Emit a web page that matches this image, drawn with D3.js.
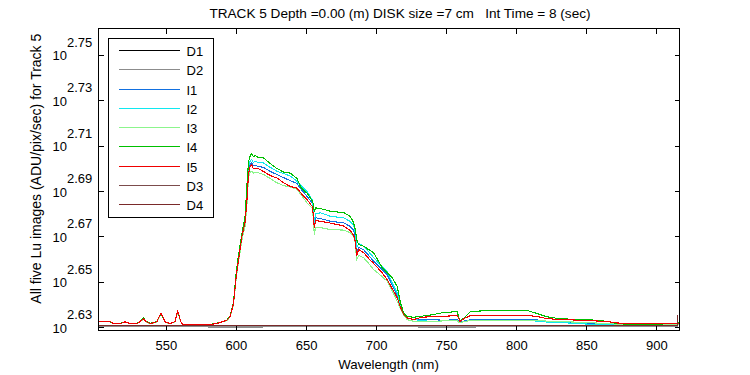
<!DOCTYPE html>
<html><head><meta charset="utf-8">
<script src="https://cdn.jsdelivr.net/npm/d3@7"></script>
<style>
body{margin:0;background:#fff}
svg{display:block}
text{font-family:"Liberation Sans",Arial,Helvetica,sans-serif;font-size:13px;fill:#000}
</style>
</head><body>
<svg id="chart" width="750" height="375"></svg>
<script>
// ---- DATA (log10 of Lu, ADU/pix/sec) ----
const wavelengths = [501.6,503.1,510.2,512.6,517.4,521.0,524.5,529.3,531.6,534.0,
535.9,538.8,543.6,545.2,546.6,548.1,549.5,553.0,556.6,558.3,
559.5,560.6,561.9,582.9,587.6,593.6,595.9,598.3,600.2,601.9,
604.3,606.6,607.9,609.0,610.2,611.3,612.4,613.8,616.1,619.7,
624.5,629.3,634.0,638.8,643.6,646.6,650.7,654.3,655.2,655.9,
656.9,660.2,667.4,676.9,681.6,684.0,685.2,686.1,687.6,691.1,
694.7,698.3,704.3,707.9,711.4,715.0,717.4,719.7,722.1,726.9,
731.6,738.8,748.3,757.9,759.0,759.9,762.6,767.4,784.0,807.9,
815.1,822.1,831.6,850.7,865.0,872.1,884.0,907.9,916.1];

const I1 = [2.6324,2.6326,2.6326,2.6316,2.6316,2.6324,2.6316,2.6316,2.6325,2.6338,
2.6325,2.6316,2.6324,2.6347,2.6360,2.6343,2.6324,2.6316,2.6325,2.6369,
2.6352,2.6325,2.6313,2.6313,2.6319,2.6331,2.6348,2.6407,2.6528,2.6605,
2.6704,2.6770,2.6880,2.6990,2.7019,2.7024,2.7012,2.7012,2.7009,2.7004,
2.6986,2.6973,2.6959,2.6946,2.6933,2.6907,2.6877,2.6848,2.6810,2.6752,
2.6782,2.6779,2.6767,2.6760,2.6744,2.6726,2.6695,2.6633,2.6651,2.6642,
2.6616,2.6591,2.6554,2.6532,2.6488,2.6444,2.6396,2.6363,2.6341,2.6334,
2.6334,2.6334,2.6331,2.6333,2.6327,2.6323,2.6327,2.6333,2.6334,2.6334,
2.6332,2.6327,2.6324,2.6319,2.6315,2.6313,2.6312,2.6312,2.6313];

const I2 = [2.6324,2.6325,2.6326,2.6316,2.6316,2.6323,2.6316,2.6316,2.6325,2.6339,
2.6325,2.6316,2.6324,2.6346,2.6359,2.6343,2.6324,2.6316,2.6325,2.6368,
2.6351,2.6325,2.6313,2.6313,2.6319,2.6331,2.6348,2.6409,2.6532,2.6611,
2.6708,2.6779,2.6898,2.7008,2.7034,2.7039,2.7026,2.7030,2.7026,2.7024,
2.7004,2.6987,2.6977,2.6966,2.6943,2.6924,2.6898,2.6863,2.6827,2.6761,
2.6801,2.6804,2.6789,2.6782,2.6766,2.6748,2.6713,2.6651,2.6669,2.6657,
2.6633,2.6606,2.6567,2.6545,2.6497,2.6452,2.6400,2.6360,2.6341,2.6334,
2.6330,2.6326,2.6328,2.6330,2.6325,2.6321,2.6325,2.6330,2.6330,2.6330,
2.6327,2.6323,2.6321,2.6314,2.6312,2.6312,2.6311,2.6312,2.6312];

const I3 = [2.6323,2.6325,2.6325,2.6315,2.6316,2.6323,2.6315,2.6316,2.6324,2.6336,
2.6324,2.6315,2.6323,2.6344,2.6356,2.6341,2.6323,2.6315,2.6324,2.6365,
2.6349,2.6324,2.6313,2.6313,2.6318,2.6330,2.6346,2.6400,2.6515,2.6589,
2.6686,2.6748,2.6845,2.6959,2.6986,2.6987,2.6979,2.6981,2.6980,2.6973,
2.6955,2.6936,2.6924,2.6918,2.6907,2.6882,2.6848,2.6826,2.6783,2.6708,
2.6738,2.6739,2.6730,2.6728,2.6716,2.6700,2.6669,2.6598,2.6616,2.6606,
2.6581,2.6554,2.6523,2.6503,2.6462,2.6415,2.6380,2.6354,2.6334,2.6326,
2.6326,2.6326,2.6328,2.6330,2.6323,2.6319,2.6325,2.6330,2.6331,2.6331,
2.6330,2.6327,2.6325,2.6321,2.6316,2.6314,2.6312,2.6312,2.6312];

const I4 = [2.6324,2.6326,2.6325,2.6316,2.6317,2.6323,2.6316,2.6317,2.6327,2.6343,
2.6326,2.6317,2.6325,2.6346,2.6358,2.6342,2.6324,2.6316,2.6325,2.6366,
2.6350,2.6325,2.6313,2.6314,2.6320,2.6332,2.6350,2.6413,2.6541,2.6620,
2.6713,2.6792,2.6929,2.7030,2.7056,2.7065,2.7052,2.7056,2.7048,2.7046,
2.7021,2.6999,2.6984,2.6979,2.6955,2.6913,2.6891,2.6858,2.6845,2.6810,
2.6826,2.6823,2.6811,2.6805,2.6788,2.6760,2.6730,2.6686,2.6664,2.6657,
2.6642,2.6628,2.6563,2.6541,2.6519,2.6481,2.6407,2.6363,2.6348,2.6344,
2.6348,2.6354,2.6365,2.6369,2.6343,2.6326,2.6341,2.6370,2.6374,2.6374,
2.6360,2.6346,2.6337,2.6334,2.6326,2.6316,2.6312,2.6315,2.6319];

const I5 = [2.6324,2.6326,2.6326,2.6316,2.6316,2.6324,2.6316,2.6316,2.6325,2.6338,
2.6325,2.6316,2.6324,2.6347,2.6360,2.6343,2.6324,2.6316,2.6325,2.6370,
2.6352,2.6325,2.6313,2.6313,2.6319,2.6331,2.6348,2.6404,2.6523,2.6598,
2.6700,2.6766,2.6863,2.6977,2.7009,2.7017,2.6999,2.6999,2.6999,2.6986,
2.6968,2.6957,2.6937,2.6920,2.6913,2.6889,2.6863,2.6833,2.6796,2.6739,
2.6770,2.6767,2.6759,2.6746,2.6726,2.6704,2.6678,2.6616,2.6642,2.6629,
2.6603,2.6581,2.6540,2.6510,2.6471,2.6431,2.6387,2.6356,2.6341,2.6334,
2.6343,2.6347,2.6348,2.6352,2.6338,2.6326,2.6338,2.6352,2.6352,2.6352,
2.6347,2.6338,2.6334,2.6330,2.6325,2.6319,2.6315,2.6315,2.6316];

const darkWavelengths = [501.6,550,600,650,700,750,800,850,900,914.9,915.3];
const D1 = [2.6305,2.6304,2.6305,2.6305,2.6304,2.6305,2.6305,2.6304,2.6305,2.6305,2.6305];
const D2 = [2.6302,2.6302,2.6301,2.6302,2.6302,2.6301,2.6302,2.6302,2.6302,2.6302,2.6302];
const D3 = [2.6306,2.6306,2.6306,2.6306,2.6306,2.6306,2.6306,2.6306,2.6306,2.6306,2.6306];
const D4 = [2.6306,2.6306,2.6306,2.6306,2.6306,2.6306,2.6306,2.6306,2.6306,2.6306,2.6356];

const seriesNames  = ["D1","D2","I1","I2","I3","I4","I5","D3","D4"];
const seriesColors = ["#000000","#8c8c8c","#1270e0","#10e8f0","#8cf58c","#00c000","#f00000","#7c4c4c","#7a2a2a"];
const xTicks = [550,600,650,700,750,800,850,900];
const yTickExponents = [2.63,2.65,2.67,2.69,2.71,2.73,2.75];
const titleText = "TRACK 5 Depth =0.00 (m) DISK size =7 cm   Int Time = 8 (sec)";
const xLabel = "Wavelength (nm)";
const yLabel = "All five Lu images (ADU/pix/sec) for Track 5";

// ---- CHART ----
const L = 98, R = 679, T = 28, B = 330;
const svg = d3.select("#chart");
const x = d3.scaleLinear().domain([501.6, 916.1]).range([L, R]);
const y = d3.scaleLinear().domain([2.6288, 2.7618]).range([B, T]);

const series = [
  {name:"D1", wl:darkWavelengths, v:D1},
  {name:"D2", wl:darkWavelengths, v:D2},
  {name:"I1", wl:wavelengths, v:I1},
  {name:"I2", wl:wavelengths, v:I2},
  {name:"I3", wl:wavelengths, v:I3},
  {name:"I4", wl:wavelengths, v:I4},
  {name:"I5", wl:wavelengths, v:I5},
  {name:"D3", wl:darkWavelengths, v:D3},
  {name:"D4", wl:darkWavelengths, v:D4}
];

svg.append("defs").append("clipPath").attr("id","clip")
  .append("rect").attr("x",L).attr("y",T).attr("width",R-L).attr("height",B-T);

const lineGen = d3.line().x(d=>x(d[0])).y(d=>y(d[1]));
const gLines = svg.append("g").attr("clip-path","url(#clip)");
series.forEach(s=>{
  const pts = s.wl.map((w,k)=>[w, s.v[k]]);
  gLines.append("path").datum(pts)
    .attr("d", lineGen)
    .attr("fill","none")
    .attr("stroke", seriesColors[seriesNames.indexOf(s.name)])
    .attr("stroke-width",1.1)
    .attr("shape-rendering","crispEdges");
});

// axes
const gx = svg.append("g").attr("transform",`translate(0,${B+0.5})`)
  .call(d3.axisBottom(x).tickValues(xTicks).tickSizeInner(-5).tickSizeOuter(0).tickPadding(10).tickFormat(d3.format("d")));
const gxt = svg.append("g").attr("transform",`translate(0,${T+0.5})`)
  .call(d3.axisTop(x).tickValues(xTicks).tickSizeInner(-5).tickSizeOuter(0).tickFormat(""));
const gy = svg.append("g").attr("transform",`translate(${L+0.5},0)`)
  .call(d3.axisLeft(y).tickValues(yTickExponents).tickSizeInner(-5).tickSizeOuter(0).tickFormat(""));
const gyr = svg.append("g").attr("transform",`translate(${R+0.5},0)`)
  .call(d3.axisRight(y).tickValues(yTickExponents).tickSizeInner(-5).tickSizeOuter(0).tickFormat(""));
[gx,gxt,gy,gyr].forEach(g=>{
  g.selectAll(".domain").remove();
  g.selectAll("line").attr("stroke","#000").attr("shape-rendering","crispEdges");
  g.selectAll("text").attr("font-family",null).attr("font-size",null).attr("fill","#000");
});
gx.selectAll("text").attr("font-size","13px");

// y tick labels: 10^exp
const ylab = svg.append("g");
yTickExponents.forEach(e=>{
  const yy = y(e);
  ylab.append("text").attr("x",67).attr("y",yy+5.5).attr("text-anchor","end").text("10");
  ylab.append("text").attr("x",67).attr("y",yy-8).attr("text-anchor","start").text(d3.format(".2f")(e));
});

// box
svg.append("rect").attr("x",L+0.5).attr("y",T+0.5).attr("width",R-L).attr("height",B-T)
  .attr("fill","none").attr("stroke","#000").attr("shape-rendering","crispEdges");

// title & labels
svg.append("text").attr("x",400).attr("y",17.5).attr("text-anchor","middle")
  .attr("xml:space","preserve").style("white-space","pre").style("font-size","13.6px").text(titleText);
svg.append("text").attr("x",(L+R)/2).attr("y",369).attr("text-anchor","middle").style("font-size","13.3px").text(xLabel);
svg.append("text").attr("transform","translate(41,168.7) rotate(-90)").attr("text-anchor","middle")
  .style("font-size","14px").text(yLabel);

// legend
const lg = svg.append("g");
lg.append("rect").attr("x",108.5).attr("y",38.5).attr("width",105).attr("height",179)
  .attr("fill","#fff").attr("stroke","#000").attr("shape-rendering","crispEdges");
seriesNames.forEach((n,i)=>{
  const yy = Math.round(50 + i*19.25) + 0.5;
  lg.append("line").attr("x1",119).attr("x2",180).attr("y1",yy).attr("y2",yy)
    .attr("stroke",seriesColors[i]).attr("stroke-width",1).attr("shape-rendering","crispEdges");
  lg.append("text").attr("x",186.5).attr("y",yy+5).text(n);
});
</script>
</body></html>
